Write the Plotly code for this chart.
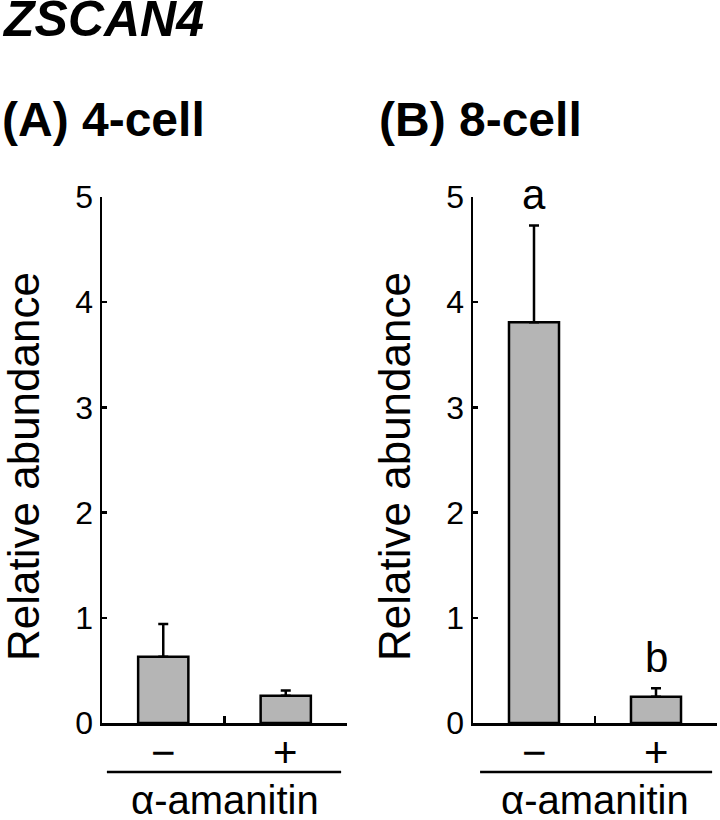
import plotly.graph_objects as go

# ---- data ----
categories = ["−", "+"]
means_4cell = [0.63, 0.26]
err_4cell = [0.31, 0.05]
means_8cell = [3.81, 0.25]
err_8cell = [0.92, 0.08]
sig_8cell = ["a", "b"]
y_ticks = [0, 1, 2, 3, 4, 5]
treatment = "α-amanitin"

FONT = "Liberation Sans, Arial, Helvetica, sans-serif"
W, H = 720, 820
BAR_FILL = "#b5b5b5"


def px(x):
    return x / W


def py(y):
    return 1 - y / H


fig = go.Figure()

for i, (means, errs) in enumerate([(means_4cell, err_4cell), (means_8cell, err_8cell)]):
    xa = "x" if i == 0 else "x2"
    ya = "y" if i == 0 else "y2"
    fig.add_trace(go.Bar(
        x=categories, y=means, xaxis=xa, yaxis=ya,
        width=0.41,
        marker=dict(color=BAR_FILL, line=dict(color="black", width=2.5)),
        error_y=dict(type="data", symmetric=False, array=errs,
                     arrayminus=[0] * len(errs), color="black",
                     thickness=2.5, width=5),
        showlegend=False, hoverinfo="skip",
    ))

# significance letters
for c, m, e, s in zip(categories, means_8cell, err_8cell, sig_8cell):
    fig.add_annotation(x=c, y=m + e, xref="x2", yref="y2", text=s,
                       showarrow=False, yanchor="bottom", yshift=5,
                       font=dict(family=FONT, size=42, color="black"))

ydom = [py(723), py(197)]
xdomA = [px(102), px(347)]
xdomB = [px(473), px(717)]

common_x = dict(type="category", range=[-0.5, 1.5], showline=True,
                linecolor="black", linewidth=2.5, ticks="inside",
                tickson="boundaries", ticklen=7, tickwidth=2.5,
                tickcolor="black", showgrid=False, zeroline=False,
                showticklabels=False, automargin=False, fixedrange=True)
common_y = dict(range=[0, 5], tickvals=y_ticks, showline=True,
                linecolor="black", linewidth=2.5, ticks="inside",
                ticklen=5, tickwidth=2.5, tickcolor="black",
                showgrid=False, zeroline=False,
                tickfont=dict(family=FONT, size=32, color="black"),
                automargin=False, fixedrange=True)

fig.update_layout(
    width=W, height=H,
    margin=dict(l=0, r=0, t=0, b=0, autoexpand=False),
    paper_bgcolor="white", plot_bgcolor="white",
    xaxis=dict(domain=xdomA, anchor="y", **common_x),
    yaxis=dict(domain=ydom, anchor="x", **common_y),
    xaxis2=dict(domain=xdomB, anchor="y2", **common_x),
    yaxis2=dict(domain=ydom, anchor="x2", **common_y),
)

# category labels under the axes
for xr in ["x", "x2"]:
    for c in categories:
        fig.add_annotation(x=c, y=py(752), xref=xr, yref="paper", text=c,
                           showarrow=False, xanchor="center", yanchor="middle",
                           font=dict(family=FONT, size=42, color="black"))

# title texts
fig.add_annotation(x=px(0), y=py(19), xref="paper", yref="paper", text="<b><i>ZSCAN4</i></b>",
                   showarrow=False, xanchor="left", yanchor="middle",
                   font=dict(family=FONT, size=50, color="black"))
for xl, label in [(0, "(A) 4-cell"), (377, "(B) 8-cell")]:
    fig.add_annotation(x=px(xl), y=py(119), xref="paper", yref="paper",
                       text=f"<b>{label}</b>", showarrow=False,
                       xanchor="left", yanchor="middle",
                       font=dict(family=FONT, size=48, color="black"))

# y axis titles
for xc in [24, 395]:
    fig.add_annotation(x=px(xc), y=py(467), xref="paper", yref="paper",
                       text="Relative abundance", textangle=-90,
                       showarrow=False, xanchor="center", yanchor="middle",
                       font=dict(family=FONT, size=44, color="black"))

# group line + treatment label under each panel
for xr, (x0, x1) in [("x domain", (0.02, 0.976)), ("x2 domain", (0.029, 0.98))]:
    fig.add_shape(type="line", xref=xr, yref="paper", x0=x0, x1=x1,
                  y0=py(772), y1=py(772), line=dict(color="black", width=2.5))
    fig.add_annotation(x=0.5, y=py(800), xref=xr, yref="paper",
                       text=treatment, showarrow=False,
                       xanchor="center", yanchor="middle",
                       font=dict(family=FONT, size=40, color="black"))

fig.write_html("out.html",
               config={"displayModeBar": False, "staticPlot": True},
               post_script="document.body.style.margin='0';document.body.style.overflow='hidden';")
